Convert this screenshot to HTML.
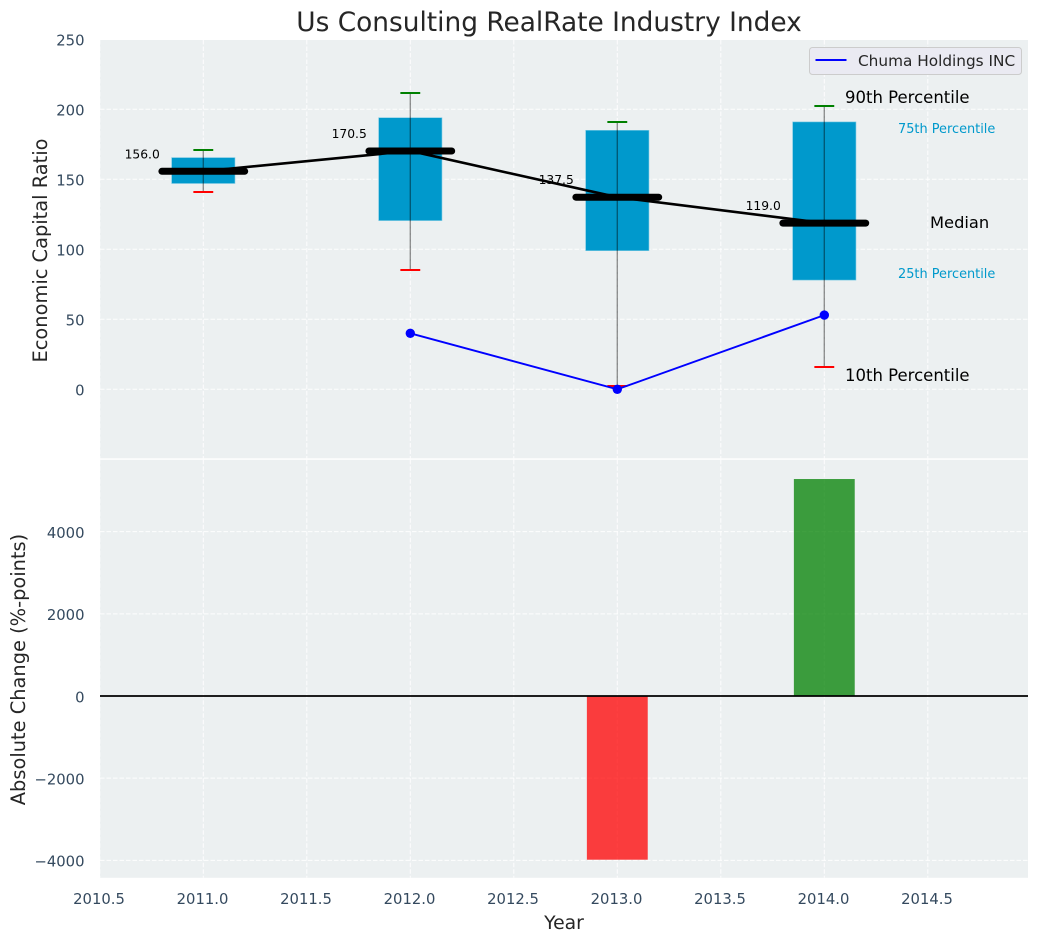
<!DOCTYPE html>
<html lang="en">
<head>
<meta charset="utf-8">
<title>Us Consulting RealRate Industry Index</title>
<style>
html,body{margin:0;padding:0;background:#fff;}
body{width:1039px;height:942px;overflow:hidden;}
svg{display:block;font-family:"DejaVu Sans","Liberation Sans",sans-serif;}
</style>
</head>
<body>
<svg id="chart" xmlns="http://www.w3.org/2000/svg" width="1039" height="942" viewBox="0 0 1039 942">
  <rect x="100" y="40" width="928" height="418.3" fill="#ecf0f1"/>
  <rect x="100" y="459.8" width="928" height="418" fill="#ecf0f1"/>
  <text x="549" y="31" text-anchor="middle" font-size="26.4" fill="#262626">Us Consulting RealRate Industry Index</text>
  <text transform="translate(47,250.5) rotate(-90)" text-anchor="middle" font-size="19.4" fill="#262626">Economic Capital Ratio</text>
  <text transform="translate(25,669.5) rotate(-90)" text-anchor="middle" font-size="19.4" fill="#262626">Absolute Change (%-points)</text>
  <text x="564" y="929" text-anchor="middle" font-size="18.8" fill="#262626">Year</text>
  <g id="grid"></g>
  <g id="ticks"></g>
  <g id="bars"></g>
  <line x1="100" x2="1028" y1="696" y2="696" stroke="#000" stroke-width="1.7"/>
  <g id="boxes"></g>
  <g id="medians"></g>
  <g id="company"></g>
  <g id="value-labels"></g>
  <g>
    <text x="845" y="103" font-size="16.5" fill="#000">90th Percentile</text>
    <text x="898" y="133" font-size="12.9" fill="#0099cc">75th Percentile</text>
    <text x="930" y="228" font-size="16.3" fill="#000">Median</text>
    <text x="898" y="278" font-size="12.9" fill="#0099cc">25th Percentile</text>
    <text x="845" y="381" font-size="16.5" fill="#000">10th Percentile</text>
  </g>
  <g>
    <rect x="809.5" y="47.5" width="212" height="27" rx="3" fill="#eaeaf2" stroke="#cccccc" stroke-width="1"/>
    <line x1="815.5" x2="846.5" y1="60" y2="60" stroke="#0000ff" stroke-width="2"/>
    <text x="858" y="66" font-size="15.3" fill="#262626">Chuma Holdings INC</text>
  </g>
</svg>
<script>
const years = [2011, 2012, 2013, 2014];
const p90 = [171, 211.5, 191, 202.5];
const p75 = [165.5, 194, 185, 191];
const median = [156.0, 170.5, 137.5, 119.0];
const p25 = [147, 120.5, 99, 78];
const p10 = [141, 85, 2.5, 16];
const companyYears = [2012, 2013, 2014];
const companyValues = [40, 0, 53];
const changeYears = [2013, 2014];
const changeValues = [-3985, 5282];
const xTicks = [2010.5, 2011, 2011.5, 2012, 2012.5, 2013, 2013.5, 2014, 2014.5];
const topYTicks = [250, 200, 150, 100, 50, 0];
const bottomYTicks = [4000, 2000, 0, -2000, -4000];

const NS = 'http://www.w3.org/2000/svg';
const xScale = v => 203.3 + (v - 2011) * 207;
const yTop = v => 389.3 - v * 1.4;
const yBottom = v => 696 - v * 0.04108;
const BOX_HALF = 0.153;
const MEDIAN_HALF = 0.2;
const CAP_HALF = 0.048;
const BAR_HALF = 0.147;

function make(parent, tag, attrs, text) {
  const el = document.createElementNS(NS, tag);
  for (const k in attrs) el.setAttribute(k, attrs[k]);
  if (text !== undefined) el.textContent = text;
  document.getElementById(parent).appendChild(el);
  return el;
}
const fmtNum = v => String(v).replace('-', '\u2212');
const gridStyle = {stroke: '#ffffff', 'stroke-width': 1, 'stroke-dasharray': '4.5 2', opacity: 0.9};

xTicks.forEach(t => {
  const a = make('grid', 'line', {x1: xScale(t), x2: xScale(t), y1: 40, y2: 458.3, ...gridStyle});
  
  
  const b = make('grid', 'line', {x1: xScale(t), x2: xScale(t), y1: 459.8, y2: 877.8, ...gridStyle});
  
  
  const l = make('ticks', 'text', {x: xScale(t) - 0.8, y: 904, 'text-anchor': 'middle', 'font-size': 14.8, fill: '#34495e'}, t.toFixed(1));
  
  
});
topYTicks.forEach(t => {
  const g = make('grid', 'line', {x1: 100, x2: 1028, y1: yTop(t), y2: yTop(t), ...gridStyle});
  
  
  const l = make('ticks', 'text', {x: 84.5, y: yTop(t) + 6.3, 'text-anchor': 'end', 'font-size': 14.8, fill: '#34495e'}, fmtNum(t));
  
  
});
bottomYTicks.forEach(t => {
  const g = make('grid', 'line', {x1: 100, x2: 1028, y1: yBottom(t), y2: yBottom(t), ...gridStyle});
  
  
  const l = make('ticks', 'text', {x: 84.5, y: yBottom(t) + 6.3, 'text-anchor': 'end', 'font-size': 14.8, fill: '#34495e'}, fmtNum(t));
  
  
});

changeYears.forEach((yr, i) => {
  const v = changeValues[i];
  const r = make('bars', 'rect', {
    x: xScale(yr - BAR_HALF), width: xScale(yr + BAR_HALF) - xScale(yr - BAR_HALF),
    y: Math.min(yBottom(v), yBottom(0)), height: Math.abs(yBottom(v) - yBottom(0)),
    fill: v < 0 ? '#ff0000' : '#008000', opacity: 0.75
  });
  
  
});

years.forEach((yr, i) => {
  const b = make('boxes', 'rect', {
    x: xScale(yr - BOX_HALF), width: xScale(yr + BOX_HALF) - xScale(yr - BOX_HALF),
    y: yTop(p75[i]), height: yTop(p25[i]) - yTop(p75[i]),
    fill: '#0099cc', stroke: '#7fcbe4', 'stroke-width': 0.6
  });
  
  
  const w = make('boxes', 'line', {x1: xScale(yr), x2: xScale(yr), y1: yTop(p90[i]), y2: yTop(p10[i]), stroke: '#000', 'stroke-opacity': 0.42, 'stroke-width': 1.4});
  
  
  const hi = make('boxes', 'line', {x1: xScale(yr - CAP_HALF), x2: xScale(yr + CAP_HALF), y1: Math.round(yTop(p90[i])), y2: Math.round(yTop(p90[i])), stroke: '#008000', 'stroke-width': 2});
  
  
  const lo = make('boxes', 'line', {x1: xScale(yr - CAP_HALF), x2: xScale(yr + CAP_HALF), y1: Math.round(yTop(p10[i])), y2: Math.round(yTop(p10[i])), stroke: '#ff0000', 'stroke-width': 2});
  
  
});

const medianLine = make('medians', 'polyline', {
  points: years.map((yr, i) => xScale(yr) + ',' + (yTop(median[i]) + 0.4)).join(' '),
  fill: 'none', stroke: '#000', 'stroke-width': 2.6
});


years.forEach((yr, i) => {
  const m = make('medians', 'line', {
    x1: xScale(yr - MEDIAN_HALF), x2: xScale(yr + MEDIAN_HALF), y1: yTop(median[i]) + 0.4, y2: yTop(median[i]) + 0.4,
    stroke: '#000', 'stroke-width': 7, 'stroke-linecap': 'round'
  });
  
  
  const t = make('value-labels', 'text', {
    x: xScale(yr) - 43.5, y: yTop(median[i]) - 12.6, 'text-anchor': 'end', 'font-size': 12.3, fill: '#000'
  }, median[i].toFixed(1));
  
  
});

const companyLine = make('company', 'polyline', {
  points: companyYears.map((yr, i) => xScale(yr) + ',' + yTop(companyValues[i])).join(' '),
  fill: 'none', stroke: '#0000ff', 'stroke-width': 1.9
});


companyYears.forEach((yr, i) => {
  const c = make('company', 'circle', {cx: xScale(yr), cy: yTop(companyValues[i]), r: 4.7, fill: '#0000ff'});
  
  
});
</script>
</body>
</html>
